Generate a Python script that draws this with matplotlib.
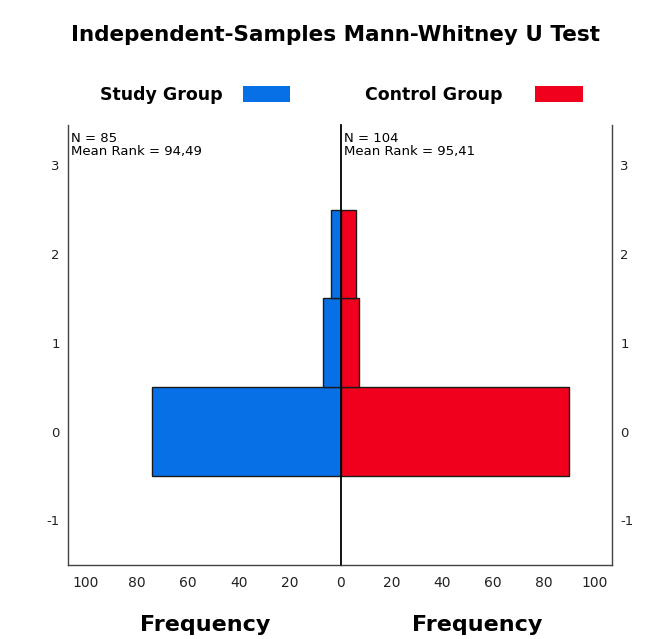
import matplotlib
matplotlib.use("Agg")
import matplotlib.pyplot as plt
from matplotlib.patches import Rectangle

# rank categories (y) and frequencies per group
ranks = [0, 1, 2]
study_freq = [74, 7, 4]
control_freq = [90, 7, 6]
x_ticks = [0, 20, 40, 60, 80, 100]
y_ticks = [-1, 0, 1, 2, 3]
study_note = "N = 85\nMean Rank = 94,49"
control_note = "N = 104\nMean Rank = 95,41"

blue = "#0870e6"
red = "#f0001c"

fig = plt.figure(figsize=(6.57, 6.39), dpi=100)
fig.patch.set_facecolor("white")

ax_l = fig.add_axes([0.1035, 0.116, 0.4155, 0.688])
ax_r = fig.add_axes([0.519, 0.116, 0.4125, 0.688])

ax_l.barh(ranks, study_freq, height=1.0, color=blue, edgecolor="#1a1a1a", linewidth=1)
ax_r.barh(ranks, control_freq, height=1.0, color=red, edgecolor="#1a1a1a", linewidth=1)

for ax in (ax_l, ax_r):
    ax.set_ylim(-1.5, 3.45)
    ax.set_xlim(0, 107)
    ax.set_xticks(x_ticks)
    ax.set_xticklabels([str(t) for t in x_ticks], fontsize=10)
    ax.set_yticks(y_ticks)
    ax.set_yticklabels([str(t) for t in y_ticks], fontsize=9.5)
    ax.spines["top"].set_visible(False)
    ax.tick_params(axis="x", length=0, pad=8, colors="#222222")
    ax.tick_params(axis="y", length=0, pad=6, colors="#222222")
    for s in ax.spines.values():
        s.set_color("#444444")
        s.set_linewidth(1)

ax_l.invert_xaxis()
ax_l.spines["right"].set_visible(False)
ax_l.get_xticklabels()[0].set_visible(False)
ax_r.spines["right"].set_visible(True)
ax_r.spines["left"].set_color("black")
ax_r.spines["left"].set_linewidth(1.3)
ax_r.yaxis.tick_right()
ax_r.tick_params(axis="y", left=False, right=True)

ax_l.text(0.012, 0.985, study_note, transform=ax_l.transAxes, fontsize=9.5,
          va="top", ha="left", linespacing=1.0)
ax_r.text(0.012, 0.985, control_note, transform=ax_r.transAxes, fontsize=9.5,
          va="top", ha="left", linespacing=1.0)

fig.text(0.51, 0.945, "Independent-Samples Mann-Whitney U Test", ha="center", va="center",
         fontsize=15.5, fontweight="bold")

fig.text(0.152, 0.852, "Study Group", ha="left", va="center", fontsize=12.5, fontweight="bold")
fig.patches.append(Rectangle((0.37, 0.841), 0.072, 0.024, transform=fig.transFigure,
                             facecolor=blue, edgecolor="none"))
fig.text(0.555, 0.852, "Control Group", ha="left", va="center", fontsize=12.5, fontweight="bold")
fig.patches.append(Rectangle((0.815, 0.841), 0.072, 0.024, transform=fig.transFigure,
                             facecolor=red, edgecolor="none"))

fig.text(0.312, 0.022, "Frequency", ha="center", va="center", fontsize=16, fontweight="bold")
fig.text(0.727, 0.022, "Frequency", ha="center", va="center", fontsize=16, fontweight="bold")

fig.savefig("out.png", dpi=100, facecolor="white")
